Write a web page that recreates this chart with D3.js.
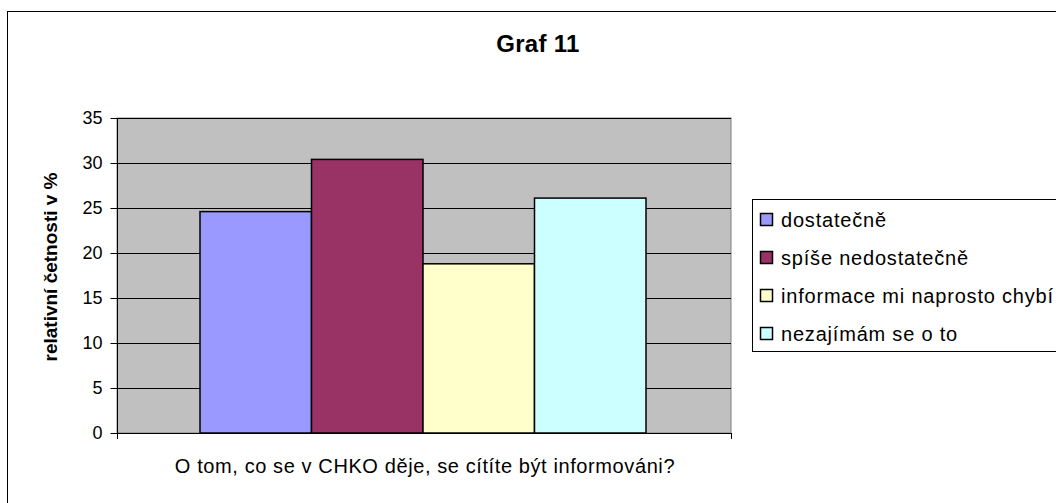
<!DOCTYPE html>
<html>
<head>
<meta charset="utf-8">
<script src="https://cdn.jsdelivr.net/npm/d3@7"></script>
<style>
  body { margin: 0; background: #fff; }
  svg text { font-family: Arial, "Liberation Sans", sans-serif; fill: #000; }
</style>
</head>
<body>
<div id="chart"></div>
<script>
// data
var categories = ['dostatečně', 'spíše nedostatečně', 'informace mi naprosto chybí', 'nezajímám se o to'];
var values = [24.6, 30.4, 18.8, 26.1];
var colors = ['#9999ff', '#993366', '#ffffcc', '#ccffff'];
var yTicks = [0, 5, 10, 15, 20, 25, 30, 35];
var title = 'Graf 11';
var xLabel = 'O tom, co se v CHKO děje, se cítíte být informováni?';
var yLabel = 'relativní četnosti v %';

var W = 1056, H = 503;
var plot = { left: 117, right: 731, top: 118, bottom: 433 };

var svg = d3.select('#chart').append('svg')
    .attr('width', W)
    .attr('height', H);

// outer frame (cut off at right / bottom like the original)
svg.append('rect')
    .attr('x', 7.5).attr('y', 11.5)
    .attr('width', W + 20).attr('height', H + 20)
    .attr('fill', '#fff')
    .attr('stroke', '#000');

svg.append('text')
    .attr('x', 538).attr('y', 52)
    .attr('text-anchor', 'middle')
    .attr('font-size', 24)
    .attr('font-weight', 'bold')
    .attr('letter-spacing', 0.3)
    .text(title);

var y = d3.scaleLinear()
    .domain([0, 35])
    .range([plot.bottom, plot.top]);

// one group, the bars sit in the middle 4/5.5 of the width (gap 150%)
var x = d3.scaleBand()
    .domain(categories)
    .range([200, 646])
    .padding(0);

// plot background
svg.append('rect')
    .attr('x', plot.left).attr('y', plot.top)
    .attr('width', plot.right - plot.left)
    .attr('height', plot.bottom - plot.top)
    .attr('fill', '#c0c0c0')
    .attr('stroke', '#808080');

// gridlines
svg.selectAll('.grid')
    .data(yTicks.filter(d => d > 0))
    .enter()
    .append('line')
    .attr('class', 'grid')
    .attr('x1', plot.left).attr('x2', plot.right)
    .attr('y1', d => Math.round(y(d)) + 0.5)
    .attr('y2', d => Math.round(y(d)) + 0.5)
    .attr('stroke', '#000');

// bars
svg.selectAll('.bar')
    .data(values)
    .enter()
    .append('rect')
    .attr('class', 'bar')
    .attr('x', (d, i) => x(categories[i]))
    .attr('y', d => y(d))
    .attr('width', x.bandwidth())
    .attr('height', d => y(0) - y(d))
    .attr('fill', (d, i) => colors[i])
    .attr('stroke', '#000')
    .attr('stroke-width', 1.5);

// y axis
var yAxis = d3.axisLeft(y)
    .tickValues(yTicks)
    .tickSize(7)
    .tickPadding(8);

var gy = svg.append('g')
    .attr('transform', 'translate(' + (plot.left + 0.5) + ',0)')
    .call(yAxis);
gy.select('.domain').attr('stroke', '#000').attr('d', 'M0,' + plot.top + 'V' + plot.bottom);
gy.selectAll('.tick line').attr('stroke', '#000');
gy.selectAll('.tick text')
    .attr('font-size', 18)
    .attr('font-family', 'Arial, "Liberation Sans", sans-serif')
    .attr('fill', '#000');

// x axis line + end ticks
svg.append('line')
    .attr('x1', plot.left).attr('x2', plot.right + 1)
    .attr('y1', plot.bottom + 0.5).attr('y2', plot.bottom + 0.5)
    .attr('stroke', '#000');
[plot.left, plot.right].forEach(function (px) {
    svg.append('line')
        .attr('x1', px + 0.5).attr('x2', px + 0.5)
        .attr('y1', plot.bottom).attr('y2', plot.bottom + 6)
        .attr('stroke', '#000');
});

svg.append('text')
    .attr('x', 425).attr('y', 473)
    .attr('text-anchor', 'middle')
    .attr('font-size', 20)
    .attr('letter-spacing', 0.6)
    .text(xLabel);

svg.append('text')
    .attr('transform', 'translate(57,267) rotate(-90)')
    .attr('text-anchor', 'middle')
    .attr('font-size', 19)
    .attr('font-weight', 'bold')
    .text(yLabel);

// legend
var legend = svg.append('g');
legend.append('rect')
    .attr('x', 752.5).attr('y', 199.5)
    .attr('width', 400).attr('height', 152)
    .attr('fill', '#fff')
    .attr('stroke', '#000');

var item = legend.selectAll('.item')
    .data(categories)
    .enter()
    .append('g')
    .attr('class', 'item')
    .attr('transform', (d, i) => 'translate(760,' + (220 + i * 38) + ')');

item.append('rect')
    .attr('x', 0.5).attr('y', -6.5)
    .attr('width', 12).attr('height', 12)
    .attr('fill', (d, i) => colors[i])
    .attr('stroke', '#000')
    .attr('stroke-width', 1.5);

item.append('text')
    .attr('x', 21).attr('y', 0)
    .attr('dy', '0.35em')
    .attr('font-size', 20)
    .attr('letter-spacing', 0.8)
    .text(d => d);
</script>
</body>
</html>
